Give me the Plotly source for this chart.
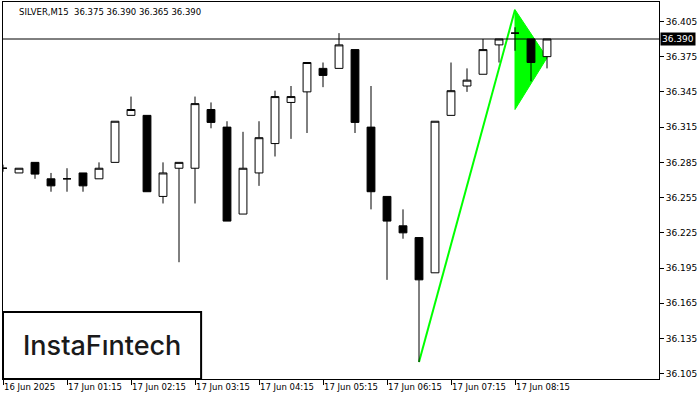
import plotly.graph_objects as go

symbol = "SILVER,M15"
bar_index = list(range(35))
open_ = [36.280, 36.276, 36.285, 36.271, 36.271, 36.276, 36.271, 36.285, 36.325, 36.325,
         36.256, 36.280, 36.280, 36.330, 36.315, 36.241, 36.276, 36.301, 36.336, 36.345,
         36.365, 36.365, 36.381, 36.315, 36.256, 36.231, 36.221, 36.191, 36.325, 36.350,
         36.360, 36.385, 36.395, 36.390, 36.375]
high = [36.283, 36.280, 36.285, 36.276, 36.280, 36.276, 36.285, 36.320, 36.341, 36.325,
        36.285, 36.285, 36.341, 36.336, 36.320, 36.311, 36.320, 36.346, 36.350, 36.370,
        36.370, 36.395, 36.381, 36.350, 36.256, 36.245, 36.221, 36.320, 36.370, 36.365,
        36.390, 36.390, 36.400, 36.390, 36.390]
low = [36.277, 36.276, 36.271, 36.260, 36.260, 36.260, 36.271, 36.285, 36.325, 36.260,
       36.250, 36.200, 36.250, 36.314, 36.235, 36.241, 36.265, 36.290, 36.305, 36.310,
       36.349, 36.365, 36.310, 36.245, 36.185, 36.220, 36.115, 36.191, 36.325, 36.345,
       36.360, 36.370, 36.380, 36.354, 36.365]
close = [36.280, 36.280, 36.275, 36.265, 36.271, 36.265, 36.280, 36.320, 36.330, 36.260,
         36.276, 36.285, 36.335, 36.319, 36.235, 36.280, 36.306, 36.341, 36.341, 36.370,
         36.359, 36.385, 36.319, 36.260, 36.235, 36.225, 36.185, 36.320, 36.346, 36.355,
         36.381, 36.390, 36.395, 36.370, 36.390]

tick_index = [0, 4, 8, 12, 16, 20, 24, 28, 32]
tick_labels = ["16 Jun 2025", "17 Jun 01:15", "17 Jun 02:15", "17 Jun 03:15", "17 Jun 04:15",
               "17 Jun 05:15", "17 Jun 06:15", "17 Jun 07:15", "17 Jun 08:15"]
price_ticks = [36.105, 36.135, 36.165, 36.195, 36.225, 36.255, 36.285, 36.315, 36.345, 36.375, 36.405]

pole_x = [26, 32]
pole_y = [36.115, 36.415]
flag_x = [32, 34, 32]
flag_y = [36.415, 36.374, 36.330]

x_range = [0, 41]
y_range = [36.1006, 36.4215]

font_name = "DejaVu Sans"
green = "#00FF00"

fig = go.Figure()

# bullish pennant, drawn beneath the candles
flag_path = "M " + " L ".join(f"{x},{y}" for x, y in zip(flag_x, flag_y)) + " Z"
fig.add_shape(type="path", xref="x", yref="y", path=flag_path, fillcolor=green,
              line=dict(color=green, width=1), layer="below")
fig.add_shape(type="line", xref="x", yref="y", x0=pole_x[0], y0=pole_y[0],
              x1=pole_x[1], y1=pole_y[1], line=dict(color=green, width=2), layer="below")

fig.add_trace(go.Candlestick(
    x=bar_index, open=open_, high=high, low=low, close=close,
    increasing=dict(line=dict(color="black", width=1), fillcolor="white"),
    decreasing=dict(line=dict(color="black", width=1), fillcolor="black"),
    showlegend=False,
))

last_close = close[-1]
fig.add_shape(type="line", xref="paper", x0=0, x1=1, yref="y", y0=last_close, y1=last_close,
              line=dict(color="black", width=1))

# price label on the right axis
fig.add_annotation(xref="paper", x=1.0, yref="y", y=last_close, text=f"{last_close:.3f}",
                   showarrow=False, xanchor="left", yanchor="middle", xshift=1,
                   bgcolor="black", font=dict(color="white", size=9, family=font_name),
                   borderpad=1)

# title
fig.add_annotation(xref="paper", yref="paper", x=0, y=1, xshift=14, yshift=-3,
                   xanchor="left", yanchor="top", showarrow=False,
                   text=f"{symbol}  {open_[-1]:.3f} {high[-1]:.3f} {low[-1]:.3f} {close[-1]:.3f}",
                   font=dict(color="black", size=8.5, family=font_name))

# logo box
fig.add_shape(type="rect", xref="paper", yref="paper", x0=0, x1=0.302, y0=0, y1=0.178,
              line=dict(color="black", width=2), fillcolor="white", layer="above")
fig.add_annotation(xref="paper", yref="paper", x=0.151, y=0.089, text="InstaF\u0131ntech",
                   showarrow=False, xanchor="center", yanchor="middle",
                   font=dict(color="#1a1a1a", size=27, family="Inter", weight=500))

fig.update_layout(
    width=700, height=400,
    margin=dict(l=3, r=41, t=2, b=21, autoexpand=False),
    paper_bgcolor="white", plot_bgcolor="white",
    font=dict(family=font_name, size=9, color="black"),
    hovermode=False,
    xaxis=dict(range=x_range, tickvals=tick_index, ticktext=tick_labels,
               ticks="outside", ticklen=5, tickcolor="black", tickangle=0,
               ticklabelposition="outside right", automargin=False,
               showgrid=False, zeroline=False, showline=True, linecolor="black",
               linewidth=1, mirror=True, rangeslider=dict(visible=False),
               tickfont=dict(size=8.5, family=font_name, color="black")),
    yaxis=dict(range=y_range, side="right", tickvals=price_ticks,
               ticktext=[f"{v:.3f}" for v in price_ticks], automargin=False,
               ticks="outside", ticklen=4, tickcolor="black",
               showgrid=False, zeroline=False, showline=True, linecolor="black",
               linewidth=1, mirror=True,
               tickfont=dict(size=9, family=font_name, color="black")),
)

fig.write_html("out.html", config={"displayModeBar": False},
               post_script="document.body.style.margin='0';")
